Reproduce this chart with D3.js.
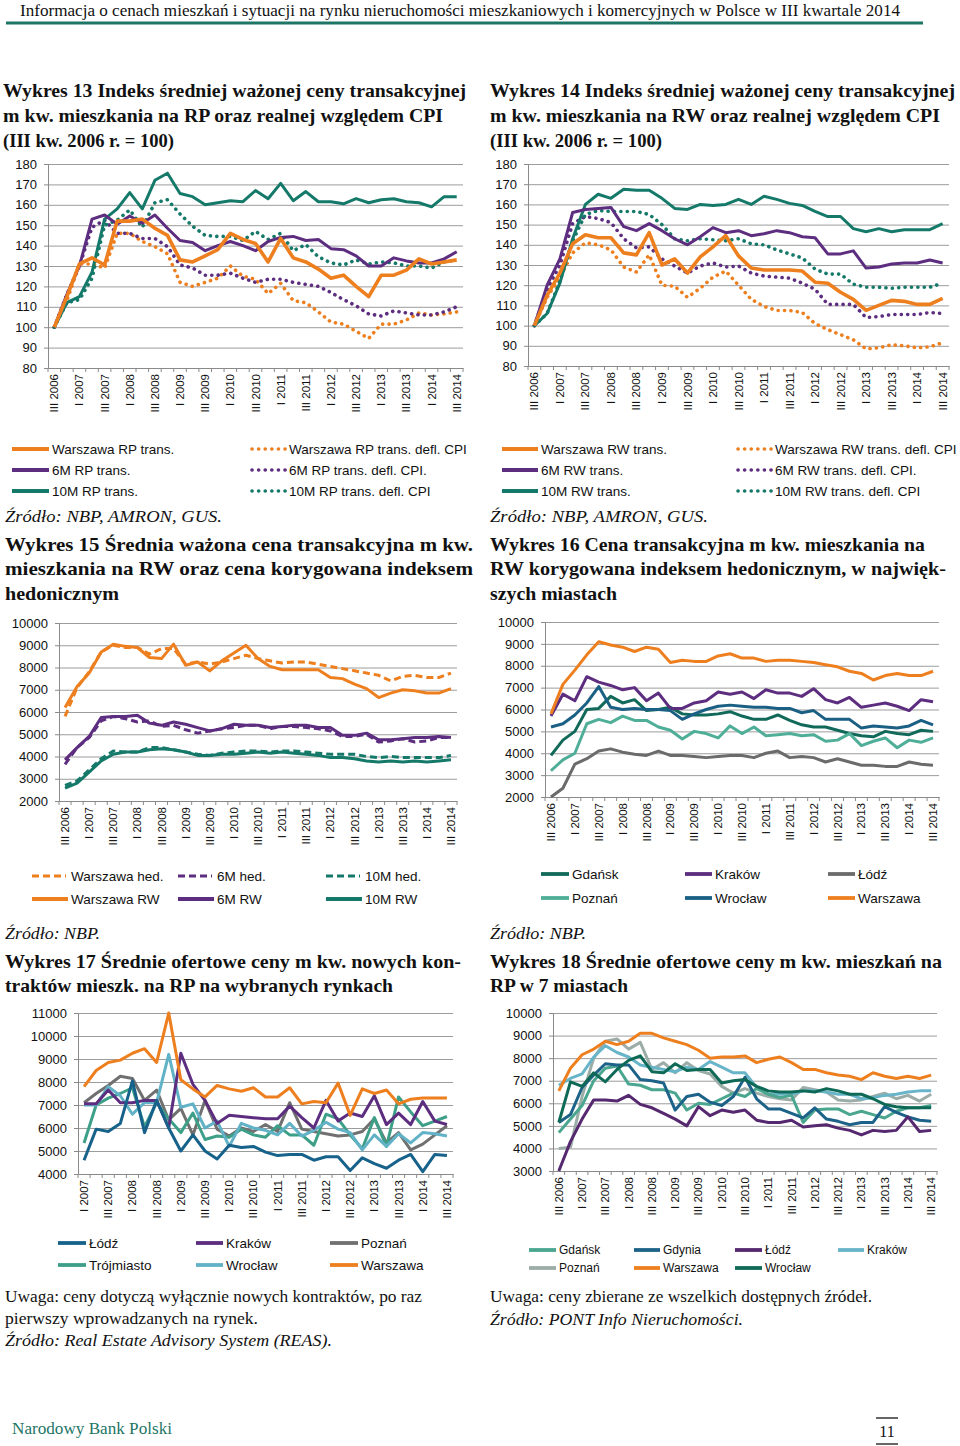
<!DOCTYPE html>
<html>
<head>
<meta charset="utf-8">
<script src="https://cdn.jsdelivr.net/npm/d3@7"></script>
<style>
  body { margin: 0; background: #fff; }
  svg { display: block; }
</style>
</head>
<body>
<svg id="page"></svg>
<script>
var quarters = ["III 2006","IV 2006","I 2007","II 2007","III 2007","IV 2007","I 2008","II 2008","III 2008","IV 2008",
  "I 2009","II 2009","III 2009","IV 2009","I 2010","II 2010","III 2010","IV 2010","I 2011","II 2011","III 2011","IV 2011",
  "I 2012","II 2012","III 2012","IV 2012","I 2013","II 2013","III 2013","IV 2013","I 2014","II 2014","III 2014"];
var quarters17 = quarters.slice(2);

// Wykres 13 (RP, III kw. 2006 = 100)
var waw13 = [100,115,131,134,130.5,152,152,153,148.5,145,133,132,135,138,146,143,141,132,143.5,134,132,128.5,124,125.5,120,115,125.5,125.5,128,133.5,131,132,133];
var m6_13 = [100,116,130,153,155,150.5,154.5,151,155,148.5,142.5,141.5,137.5,140,142,140,137.5,142,144,144.5,142.5,143,138.5,138,135,130,130,134,132.5,131.5,131.5,133.5,137];
var m10_13 = [100,112,115,127,153,158,166,158,172,175.5,165.5,164,160,161,162,161.5,167,163,170.5,162,166.5,161.5,161.5,160.5,163,161,162.5,163,161.5,161,159,164,164];
var waw13cpi = [100,113,131,131,129,146,146,142,139.5,136,122,120,122,124,130,125,123.5,116.5,121.5,113,112,107.5,102.5,101.5,98,94.5,101.5,101.5,103.5,107,106,106.5,107.5];
var m6_13cpi = [100,116,130,149,152.5,146,146,143.5,143.5,139.5,130.5,129,125.5,125.5,126.5,124,122,123.5,123.5,122,121,120,117,113.5,110.5,106.5,105.5,108,107,106,106,107.5,110];
var m10_13cpi = [100,112,113.5,124,150,152.5,157.5,149,161,162.5,155.5,149.5,145,144.5,144.5,142.5,147,143,146,137.5,140.5,134.5,131.5,130.5,133,131,132,131.5,130,130,129,132,133];

// Wykres 14 (RW, III kw. 2006 = 100)
var waw14 = [100,115,126,140.5,145,143.5,143.5,136,135,146,130,133,126,134,139,144.5,134.5,128.5,127.5,127.5,127.5,127,121.5,121,116.5,113,107.5,110,112.5,112,110.5,110.5,113.5];
var m6_14 = [100,120,133,156,157.5,158,158.5,149,147,150.5,147,143,140,144,148.5,146,147,144.5,145.5,147,146,144,143.5,135.5,135.5,137,128.5,129,130.5,131,131,132.5,131];
var m10_14 = [100,106,121,143,160,165,163,167.5,167,167,163,158,157.5,160,159.5,160,162.5,160,164,162.5,160.5,159.5,156.5,154,154,148,146.5,148,146.5,147.5,147.5,147.5,150.5];
var waw14cpi = [100,114,124,136,141,140,137.5,129,126.5,135,120,119.5,114,118.5,124,127,120,113,109.5,107.5,107.5,106.5,101,98,95.5,93,88.5,89,90.5,90,89,89.5,91.5];
var m6_14cpi = [100,118,130,150.5,154,153,151,143,138.5,139,133,129.5,126,129.5,131,129,129.5,126,124.5,124,123.5,121,118,110.5,110.5,110.5,104,104.5,105.5,105.5,105.5,106.5,106];
var m10_14cpi = [100,106,122,142,155,157,156.5,156.5,156.5,155,150,143,142,143,142.5,142,143,140.5,140,137.5,135.5,133.5,128,125.5,125.5,120.5,119,119,118.5,119,119,119,121];

// Wykres 15 (zl/m2)
var waw15 = [6200,7150,7750,8700,9050,8950,8900,8450,8400,9050,8100,8250,7850,8300,8650,9000,8400,8050,7900,7900,7900,7900,7550,7500,7250,7050,6650,6850,7000,6950,6850,6850,7050];
var waw15hed = [5800,7100,7800,8700,9000,8900,8900,8600,8850,8850,8150,8250,8150,8250,8400,8550,8400,8300,8200,8250,8250,8150,8050,7950,7850,7750,7650,7400,7600,7650,7550,7550,7750];
var m6_15 = [3850,4400,4900,5750,5800,5800,5850,5500,5400,5550,5450,5300,5150,5250,5450,5400,5400,5300,5350,5400,5400,5300,5300,4950,4950,5050,4750,4750,4800,4850,4850,4900,4850];
var m6_15hed = [3650,4400,4850,5600,5800,5700,5550,5600,5350,5400,5200,5050,5150,5250,5300,5400,5400,5250,5350,5350,5300,5250,5150,4900,4900,5000,4650,4700,4800,4650,4700,4850,4850];
var m10_15 = [2580,2800,3300,3800,4100,4200,4200,4300,4350,4300,4200,4050,4050,4100,4100,4150,4200,4150,4200,4150,4100,4050,3950,3950,3900,3800,3750,3800,3750,3800,3750,3800,3850];
var m10_15hed = [2700,2900,3400,3900,4250,4200,4200,4400,4400,4300,4200,4100,4050,4150,4200,4250,4250,4200,4250,4250,4200,4150,4100,4100,4100,4000,3950,4000,3950,3950,3950,3950,4050];

// Wykres 16 (zl/m2)
var gdansk16 = [3900,4600,5000,6000,6050,6600,6300,6450,5950,6000,6100,5800,5750,5750,5800,5900,5700,5550,5550,5750,5500,5300,5200,5200,5050,4900,4800,4750,5000,4900,4850,5050,5000];
var krakow16 = [5700,6700,6400,7500,7250,7100,6900,7000,6400,6750,6050,6050,6300,6400,6800,6700,6800,6500,6900,6750,6750,6600,6950,6450,6300,6550,6100,6200,6300,6150,5950,6450,6350];
var lodz16 = [2000,2400,3500,3750,4100,4200,4050,3950,3900,4100,3900,3900,3850,3800,3850,3900,3900,3800,4000,4100,3800,3850,3800,3600,3750,3600,3450,3450,3400,3400,3600,3500,3450];
var poznan16 = [3200,3700,4000,5350,5550,5400,5700,5500,5500,5200,5050,4650,5000,4900,4700,5250,4900,5200,4800,4850,4900,4800,4850,4550,4600,4900,4350,4550,4700,4250,4600,4500,4700];
var wroclaw16 = [5200,5350,5750,6300,7050,6100,6000,6050,6000,6000,5950,5550,5800,6000,6150,6200,6150,6100,6100,6050,6050,5850,5950,5550,5550,5550,5150,5250,5200,5150,5250,5500,5300];
var warszawa16 = [5800,7150,7800,8500,9100,8950,8850,8650,8850,8750,8150,8250,8200,8200,8450,8550,8350,8350,8200,8250,8250,8200,8150,8050,7950,7750,7650,7350,7550,7650,7550,7550,7750];

// Wykres 17 (zl/m2, od I 2007)
var lodz17 = [4600,5950,5850,6200,8050,5800,7200,6000,5000,5700,5000,4650,5250,5150,5200,4950,4800,4850,4850,4600,4750,4750,4150,4700,4450,4250,4600,4850,4100,4850,4800];
var krakow17 = [7050,7050,7650,7100,7100,7200,7200,6000,9250,7900,7200,6200,6550,6500,6450,6400,6400,6950,6450,6000,7200,6300,6650,6500,7400,6150,6650,6150,7150,6300,6150];
var poznan17 = [7100,7500,7850,8250,8150,7200,7650,6350,6850,5700,7200,5950,5650,6000,5850,6150,5850,7100,5950,5850,5750,5650,5700,5850,6400,5350,5800,5050,5300,5700,6100];
var trojmiasto17 = [5350,7000,7300,7500,7750,6050,7100,6400,5800,6650,5500,5650,5600,5950,5700,5600,6100,5700,5700,5250,6600,6400,5700,5100,6450,5200,7350,6700,6100,6300,6500];
var wroclaw17 = [7000,7000,7800,7400,6600,7100,7100,9200,6900,7050,6000,6300,5200,6200,6000,5900,5700,6200,5650,5900,6250,5950,5800,5050,5700,5200,5750,5350,5800,5750,5650];
var warszawa17 = [7800,8500,8850,8950,9250,9450,8850,11000,8100,7700,7350,7850,7700,7600,7750,7350,7350,7750,7050,7150,7100,7950,6550,7700,7500,7650,7050,7250,7300,7300,7300];

// Wykres 18 (zl/m2)
var gdansk18 = [4700,5300,5900,7000,7550,7650,6850,6800,6600,6600,6450,5700,6000,5950,6200,6450,6300,6650,6400,6250,6350,5150,5700,5750,5750,5500,5650,5500,5350,5650,5800,5800,5900];
var gdynia18 = [5150,5500,6700,7250,7750,7700,7700,7050,7000,6900,5700,6300,6400,6050,5900,6300,7150,6200,5750,5750,5550,5350,5800,5300,5200,5050,5150,5150,5850,5600,5400,5250,5200];
var lodz18 = [3000,4300,5300,6150,6150,6100,6350,5950,5800,5550,5300,5000,5850,5450,5700,5600,5700,5250,5150,5150,5250,4950,5000,5050,4900,4800,4600,4800,4750,4800,5400,4750,4800];
var krakow18 = [6800,7100,7300,8050,8550,8250,8050,7700,7600,7500,7400,7600,7500,7850,7600,7350,7350,6700,6400,6400,6400,6550,6550,6500,6400,6400,6200,6250,6350,6400,6500,6550,6550];
var poznan18 = [4000,4050,6300,8000,8750,8850,8400,8700,7500,7800,7350,7800,7450,7300,6750,6450,6650,6450,6300,6200,6150,6700,6600,6500,6150,6100,6150,6300,6450,6200,6350,6100,6400];
var warszawa18 = [6550,7550,8150,8400,8750,8600,8750,9100,9100,8900,8750,8600,8350,8000,8050,8050,8100,7800,7950,8050,7800,7500,7500,7350,7250,7200,7050,7350,7200,7100,7200,7100,7250];
var wroclaw18 = [5150,6950,6750,7350,6950,7500,7900,8100,7400,7350,7750,7450,7500,7500,6900,7000,7050,6750,6550,6500,6500,6550,6500,6650,6550,6400,6400,6200,5950,5850,5800,5800,5800];

var orange = "#ee7f1f", purple = "#5d2d80", green = "#15796a";
var sans = "'Liberation Sans', Arial, sans-serif";
var serif = "'Liberation Serif', 'Times New Roman', serif";

var svg = d3.select("#page").attr("width", 960).attr("height", 1446);

function drawChart(o) {
  var g = svg.append("g");
  var x = d3.scaleBand().domain(o.cats).range([o.left, o.right]);
  var y = d3.scaleLinear().domain(o.domain).range([o.bottom, o.top]);
  var ticks = d3.range(o.domain[0], o.domain[1] + 1, o.step);
  var half = x.bandwidth() / 2;

  // gridlines
  g.append("g")
    .attr("transform", "translate(" + o.left + ",0)")
    .call(d3.axisLeft(y).tickValues(ticks).tickSize(-(o.right - o.left)).tickFormat(""))
    .call(function (s) { s.select(".domain").remove(); })
    .selectAll("line").attr("stroke", "#9c9c9c").attr("stroke-width", 1);

  // y axis
  var ya = g.append("g")
    .attr("transform", "translate(" + o.left + ",0)")
    .call(d3.axisLeft(y).tickValues(ticks).tickSize(4).tickSizeOuter(0).tickPadding(7).tickFormat(d3.format("d")));
  ya.select(".domain").attr("stroke", "#8a8a8a");
  ya.selectAll("line").attr("stroke", "#8a8a8a");
  ya.selectAll("text").attr("font-family", sans).attr("font-size", "13px").attr("fill", "#111");

  // x axis
  var xa = g.append("g")
    .attr("transform", "translate(0," + o.bottom + ")")
    .call(d3.axisBottom(x).tickSize(0).tickFormat(function (d, i) { return i % 2 === 0 ? d : ""; }));
  xa.select(".domain").attr("stroke", "#8a8a8a");
  xa.selectAll("text")
    .attr("transform", "rotate(-90)")
    .attr("x", -6).attr("y", 0).attr("dy", "0.35em")
    .attr("text-anchor", "end")
    .attr("font-family", sans).attr("font-size", "11.5px").attr("fill", "#111");
  g.selectAll(".btick")
    .data(o.cats.concat(["end"]))
    .enter().append("line")
    .attr("x1", function (d) { return d === "end" ? o.right : x(d); })
    .attr("x2", function (d) { return d === "end" ? o.right : x(d); })
    .attr("y1", o.bottom).attr("y2", o.bottom + 4)
    .attr("stroke", "#8a8a8a");

  var line = d3.line()
    .x(function (d, i) { return x(o.cats[i]) + half; })
    .y(function (d) { return y(d); });

  o.series.forEach(function (s) {
    var p = g.append("path").datum(s.values)
      .attr("d", line)
      .attr("fill", "none")
      .attr("stroke", s.color)
      .attr("stroke-width", s.width || 3)
      .attr("stroke-linejoin", "round");
    if (s.style === "dot") {
      p.attr("stroke-dasharray", "0.1,6.3").attr("stroke-linecap", "round").attr("stroke-width", 3.6);
    } else if (s.style === "dash") {
      p.attr("stroke-dasharray", "7,4").attr("stroke-width", 3);
    }
  });
}

function legend(items) {
  items.forEach(function (it) {
    var l = svg.append("line")
      .attr("x1", it.x).attr("x2", it.x + it.len)
      .attr("y1", it.y).attr("y2", it.y)
      .attr("stroke", it.color).attr("stroke-width", 3.8);
    if (it.style === "dot") l.attr("stroke-dasharray", "0.1,6.5").attr("stroke-linecap", "round").attr("stroke-width", 3.6);
    if (it.style === "dash") l.attr("stroke-dasharray", "7,4").attr("stroke-width", 3);
    svg.append("text")
      .attr("x", it.x + it.len + (it.gap || 3)).attr("y", it.y).attr("dy", "0.35em")
      .attr("font-family", sans).attr("font-size", (it.size || 13.5) + "px")
      .attr("fill", "#111")
      .text(it.label);
  });
}

function textLines(list, size, weight) {
  list.forEach(function (t) {
    svg.append("text")
      .attr("x", t[1]).attr("y", t[2])
      .attr("font-family", serif).attr("font-size", size + "px")
      .attr("font-weight", weight)
      .attr("font-style", t[4] ? "italic" : "normal")
      .attr("fill", "#111")
      .attr("textLength", t[3]).attr("lengthAdjust", "spacingAndGlyphs")
      .text(t[0]);
  });
}

// header
svg.append("text")
  .attr("x", 20).attr("y", 16)
  .attr("font-family", serif).attr("font-size", "16.5px").attr("fill", "#111")
  .attr("textLength", 880).attr("lengthAdjust", "spacingAndGlyphs")
  .text("Informacja o cenach mieszkań i sytuacji na rynku nieruchomości mieszkaniowych i komercyjnych w Polsce w III kwartale 2014");
svg.append("line").attr("x1", 6).attr("x2", 923).attr("y1", 23).attr("y2", 23)
  .attr("stroke", "#1d7566").attr("stroke-width", 3);

textLines([
  ["Wykres 13 Indeks średniej ważonej ceny transakcyjnej", 3, 97, 463],
  ["m kw. mieszkania na RP oraz realnej względem CPI", 3, 122, 440],
  ["(III kw. 2006 r. = 100)", 3, 147, 171],
  ["Wykres 14 Indeks średniej ważonej ceny transakcyjnej", 490, 97, 465],
  ["m kw. mieszkania na RW oraz realnej względem CPI", 490, 122, 450],
  ["(III kw. 2006 r. = 100)", 490, 147, 172],
  ["Wykres 15 Średnia ważona cena transakcyjna m kw.", 5, 551, 468],
  ["mieszkania na RW oraz cena korygowana indeksem", 5, 575, 468],
  ["hedonicznym", 5, 600, 114],
  ["Wykres 16 Cena transakcyjna m kw. mieszkania na", 490, 551, 435],
  ["RW korygowana indeksem hedonicznym, w najwięk-", 490, 575, 456],
  ["szych miastach", 490, 600, 127],
  ["Wykres 17 Średnie ofertowe ceny m kw. nowych kon-", 5, 968, 456],
  ["traktów mieszk. na RP na wybranych rynkach", 5, 992, 388],
  ["Wykres 18 Średnie ofertowe ceny m kw. mieszkań na", 490, 968, 452],
  ["RP w 7 miastach", 490, 992, 138]
], 19, "bold");

textLines([
  ["Źródło: NBP, AMRON, GUS.", 5, 522, 217, true],
  ["Źródło: NBP, AMRON, GUS.", 490, 522, 218, true],
  ["Źródło: NBP.", 5, 939, 95, true],
  ["Źródło: NBP.", 490, 939, 96, true],
  ["Uwaga: ceny dotyczą wyłącznie nowych kontraktów, po raz", 5, 1302, 417],
  ["pierwszy wprowadzanych na rynek.", 5, 1324, 253],
  ["Źródło: Real Estate Advisory System (REAS).", 5, 1346, 327, true],
  ["Uwaga: ceny zbierane ze wszelkich dostępnych źródeł.", 490, 1302, 382],
  ["Źródło: PONT Info Nieruchomości.", 490, 1325, 253, true]
], 17, "normal");

// charts
drawChart({ cats: quarters, left: 48, right: 463, top: 164, bottom: 368, domain: [80, 180], step: 10,
  series: [
    { values: waw13cpi, color: orange, style: "dot" },
    { values: m6_13cpi, color: purple, style: "dot" },
    { values: m10_13cpi, color: green, style: "dot" },
    { values: m10_13, color: green },
    { values: m6_13, color: purple },
    { values: waw13, color: orange, width: 3.6 }
  ] });

drawChart({ cats: quarters, left: 528, right: 949, top: 164, bottom: 366, domain: [80, 180], step: 10,
  series: [
    { values: waw14cpi, color: orange, style: "dot" },
    { values: m6_14cpi, color: purple, style: "dot" },
    { values: m10_14cpi, color: green, style: "dot" },
    { values: m10_14, color: green },
    { values: m6_14, color: purple },
    { values: waw14, color: orange, width: 3.6 }
  ] });

drawChart({ cats: quarters, left: 59, right: 457, top: 623, bottom: 801, domain: [2000, 10000], step: 1000,
  series: [
    { values: waw15hed, color: orange, style: "dash" },
    { values: m6_15hed, color: purple, style: "dash" },
    { values: m10_15hed, color: green, style: "dash" },
    { values: waw15, color: orange },
    { values: m6_15, color: purple },
    { values: m10_15, color: green }
  ] });

drawChart({ cats: quarters, left: 545, right: 939, top: 622, bottom: 797, domain: [2000, 10000], step: 1000,
  series: [
    { values: gdansk16, color: "#11695a" },
    { values: krakow16, color: purple },
    { values: lodz16, color: "#6b6b6b" },
    { values: poznan16, color: "#4fae97" },
    { values: wroclaw16, color: "#1a5f84" },
    { values: warszawa16, color: orange }
  ] });

drawChart({ cats: quarters17, left: 78, right: 453, top: 1013, bottom: 1174, domain: [4000, 11000], step: 1000,
  series: [
    { values: poznan17, color: "#707070" },
    { values: trojmiasto17, color: "#3e9f89" },
    { values: wroclaw17, color: "#62b2c7" },
    { values: krakow17, color: purple },
    { values: lodz17, color: "#17628a" },
    { values: warszawa17, color: orange }
  ] });

drawChart({ cats: quarters, left: 553, right: 937, top: 1013, bottom: 1171, domain: [3000, 10000], step: 1000,
  series: [
    { values: poznan18, color: "#9cada8" },
    { values: krakow18, color: "#68b5c9" },
    { values: gdansk18, color: "#4aa68f" },
    { values: gdynia18, color: "#1d6288" },
    { values: lodz18, color: "#55286f" },
    { values: wroclaw18, color: "#0f6957" },
    { values: warszawa18, color: orange }
  ] });

// legends
legend([
  { x: 12, y: 449, len: 37, color: orange, label: "Warszawa RP trans." },
  { x: 12, y: 470, len: 37, color: purple, label: "6M RP trans." },
  { x: 12, y: 491, len: 37, color: green, label: "10M RP trans." },
  { x: 252, y: 449, len: 34, color: orange, style: "dot", label: "Warszawa RP trans. defl. CPI" },
  { x: 252, y: 470, len: 34, color: purple, style: "dot", label: "6M RP trans. defl. CPI." },
  { x: 252, y: 491, len: 34, color: green, style: "dot", label: "10M RP trans. defl. CPI" },
  { x: 502, y: 449, len: 36, color: orange, label: "Warszawa RW trans." },
  { x: 502, y: 470, len: 36, color: purple, label: "6M RW trans." },
  { x: 502, y: 491, len: 36, color: green, label: "10M RW trans." },
  { x: 738, y: 449, len: 34, color: orange, style: "dot", label: "Warszawa RW trans. defl. CPI" },
  { x: 738, y: 470, len: 34, color: purple, style: "dot", label: "6M RW trans. defl. CPI." },
  { x: 738, y: 491, len: 34, color: green, style: "dot", label: "10M RW trans. defl. CPI" }
]);

legend([
  { x: 32, y: 876, len: 34, gap: 5, color: orange, style: "dash", label: "Warszawa hed." },
  { x: 178, y: 876, len: 34, gap: 5, color: purple, style: "dash", label: "6M hed." },
  { x: 326, y: 876, len: 34, gap: 5, color: green, style: "dash", label: "10M hed." },
  { x: 32, y: 899, len: 36, color: orange, label: "Warszawa RW" },
  { x: 178, y: 899, len: 36, color: purple, label: "6M RW" },
  { x: 326, y: 899, len: 36, color: green, label: "10M RW" },
  { x: 541, y: 874, len: 28, color: "#11695a", label: "Gdańsk" },
  { x: 685, y: 874, len: 27, color: purple, label: "Kraków" },
  { x: 828, y: 874, len: 27, color: "#6b6b6b", label: "Łódź" },
  { x: 541, y: 898, len: 28, color: "#4fae97", label: "Poznań" },
  { x: 685, y: 898, len: 27, color: "#1a5f84", label: "Wrocław" },
  { x: 828, y: 898, len: 27, color: orange, label: "Warszawa" }
]);

legend([
  { x: 58, y: 1243, len: 28, color: "#17628a", label: "Łódź" },
  { x: 196, y: 1243, len: 27, color: purple, label: "Kraków" },
  { x: 330, y: 1243, len: 28, color: "#707070", label: "Poznań" },
  { x: 58, y: 1265, len: 28, color: "#3e9f89", label: "Trójmiasto" },
  { x: 196, y: 1265, len: 27, color: "#62b2c7", label: "Wrocław" },
  { x: 330, y: 1265, len: 28, color: orange, label: "Warszawa" },
  { x: 529, y: 1250, len: 27, color: "#4aa68f", label: "Gdańsk", size: 12 },
  { x: 634, y: 1250, len: 26, color: "#1d6288", label: "Gdynia", size: 12 },
  { x: 735, y: 1250, len: 27, color: "#55286f", label: "Łódź", size: 12 },
  { x: 838, y: 1250, len: 26, color: "#68b5c9", label: "Kraków", size: 12 },
  { x: 529, y: 1268, len: 27, color: "#9cada8", label: "Poznań", size: 12 },
  { x: 634, y: 1268, len: 26, color: orange, label: "Warszawa", size: 12 },
  { x: 735, y: 1268, len: 27, color: "#0f6957", label: "Wrocław", size: 12 }
]);

// footer
svg.append("text").attr("x", 12).attr("y", 1434)
  .attr("font-family", serif).attr("font-size", "16.5px").attr("fill", "#1d7566")
  .attr("textLength", 160).attr("lengthAdjust", "spacingAndGlyphs")
  .text("Narodowy Bank Polski");
svg.append("text").attr("x", 887).attr("y", 1437).attr("text-anchor", "middle")
  .attr("font-family", serif).attr("font-size", "16px").attr("fill", "#111")
  .text("11");
svg.append("line").attr("x1", 876).attr("x2", 898).attr("y1", 1418).attr("y2", 1418).attr("stroke", "#333").attr("stroke-width", 1.5);
svg.append("line").attr("x1", 876).attr("x2", 898).attr("y1", 1444).attr("y2", 1444).attr("stroke", "#333").attr("stroke-width", 1.5);
</script>
</body>
</html>
